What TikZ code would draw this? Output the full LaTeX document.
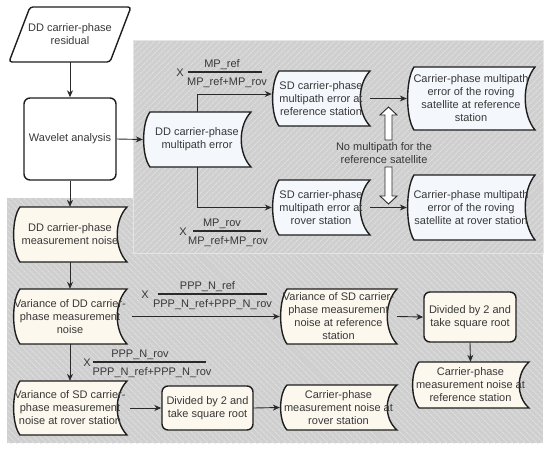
\documentclass[tikz,border=0pt]{standalone}
\usepackage{fontspec}
\setmainfont{Liberation Sans}
\usetikzlibrary{arrows.meta,patterns.meta,calc}
\pgfdeclarelayer{bg}\pgfdeclarelayer{mid}
\pgfsetlayers{bg,mid,main}
\definecolor{txtc}{HTML}{383838}
\definecolor{linec}{HTML}{2A2A2A}
\definecolor{bordc}{HTML}{1E1E1E}
\definecolor{blu}{HTML}{F4F7FC}
\definecolor{crm}{HTML}{FDF8EE}
\definecolor{bggray}{HTML}{CFCFCF}
\definecolor{hatch}{HTML}{DEDEDE}
\tikzset{
  txtnode/.style={inner sep=0pt, align=center, text=txtc, font=\fontsize{11}{13}\selectfont},
  lbl/.style={inner sep=0pt, text=txtc, font=\fontsize{11}{13}\selectfont},
  bord/.style={draw=bordc, line width=1.4pt},
  rbox/.style={txtnode, bord, rounded corners=6pt},
  arr/.style={draw=linec, line width=0.9pt, -{Stealth[length=7pt,width=6pt]}},
  fracl/.style={draw=linec, line width=1.2pt},
  hollow/.style={draw=linec, line width=0.9pt, fill=white, line join=miter}
}
\newcommand{\stnode}[7]{%
  \node[txtnode, minimum width=#4pt, minimum height=#5pt] (#1) at (#2,#3) {#7};
  \begin{pgfonlayer}{mid}
    \draw[bord, fill=#6] ({#2-#4/2+7},{#3-#5/2}) -- ({#2+#4/2},{#3-#5/2})
      .. controls ({#2+#4/2-13},{#3-#5/4}) and ({#2+#4/2-13},{#3+#5/4}) .. ({#2+#4/2},{#3+#5/2})
      -- ({#2-#4/2+7},{#3+#5/2})
      .. controls ({#2-#4/2-1.5},{#3+0.3*#5}) and ({#2-#4/2-1.5},{#3-0.3*#5}) .. cycle;
  \end{pgfonlayer}}
\newcommand{\fraclbl}[9]{%
  \draw[fracl] (#2,#4) -- (#3,#4);
  \node[lbl, anchor=base] (#1n) at ({(#2+#3)/2+#7},{#4-5}) {#5};
  \node[lbl, anchor=base] (#1d) at ({(#2+#3)/2+#8},{#4+13.5}) {#6};
  \node[lbl, anchor=base] (#1x) at (#9,{#4+4.5}) {X};}
\begin{document}
\begin{tikzpicture}[x=1pt,y=-1pt]
\useasboundingbox (0,0) rectangle (550,450);
% background regions
\begin{pgfonlayer}{bg}
  \fill[white] (0,0) rectangle (550,450);
  \fill[bggray] (7,198) rectangle (543,443);
  \fill[pattern={Lines[angle=-45,distance=4pt,line width=1pt]}, pattern color=hatch] (7,198) rectangle (543,443);
  \fill[bggray] (133,40) rectangle (543,253);
  \fill[pattern={Lines[angle=45,distance=4pt,line width=1pt]}, pattern color=hatch] (133,40) rectangle (543,253);
  \draw[black!10, line width=0.6pt] (133,40) rectangle (543,253);
\end{pgfonlayer}
% parallelogram
\node[txtnode, minimum width=100pt, minimum height=55pt] (res) at (70,34.5) {DD carrier-phase\\residual};
\begin{pgfonlayer}{mid}
  \draw[bord, fill=white, rounded corners=3pt] (30,7) -- (131,7) -- (110,62) -- (9,62) -- cycle;
\end{pgfonlayer}
\node[rbox, fill=white, minimum width=92pt, minimum height=82pt] (wav) at (70,139) {Wavelet analysis};
\stnode{dmn}{70}{234.5}{114}{55}{crm}{DD carrier-phase\\measurement noise}
\stnode{dmp}{197}{139.5}{108}{55}{blu}{DD carrier-phase\\multipath error}
\stnode{sdr}{321}{98.5}{98}{55}{blu}{SD carrier-phase\\multipath error at\\reference station}
\stnode{cmr}{471}{98.5}{128}{63}{blu}{Carrier-phase multipath\\error of the roving\\satellite at reference\\station}
\stnode{sdv}{321}{207.5}{98}{55}{blu}{SD carrier-phase\\multipath error at\\rover station}
\stnode{cmv}{471}{207.5}{128}{65}{blu}{Carrier-phase multipath\\error of the roving\\satellite at rover station}
\stnode{vdd}{70}{316.5}{114}{55}{crm}{Variance of DD carrier-\\phase measurement\\noise}
\stnode{vsr}{70}{408}{114}{54}{crm}{Variance of SD carrier-\\phase measurement\\noise at rover station}
\stnode{vsf}{338.5}{316.5}{117}{55}{crm}{Variance of SD carrier-\\phase measurement\\noise at reference\\station}
\node[rbox, fill=crm, minimum width=92pt, minimum height=50pt] (dv1) at (470,317) {Divided by 2 and\\take square root};
\stnode{cnr}{470.5}{385}{117}{46}{crm}{Carrier-phase\\measurement noise at\\reference station}
\node[rbox, fill=crm, minimum width=91pt, minimum height=44pt] (dv2) at (207.5,408) {Divided by 2 and\\take square root};
\stnode{cnv}{338.5}{407.5}{117}{45}{crm}{Carrier-phase\\measurement noise at\\rover station}
% no multipath text and hollow arrows
\node[txtnode] (nomp) at (384,153.5) {No multipath for the\\reference satellite};
\draw[hollow] (388.5,107) -- (397,115) -- (392,115) -- (392,140) -- (385,140) -- (385,115) -- (380,115) -- cycle;
\draw[hollow] (388.5,204) -- (397,196) -- (392,196) -- (392,167) -- (385,167) -- (385,196) -- (380,196) -- cycle;
% connectors
\draw[arr] (res.south) -- (wav.north);
\draw[arr] (wav.east) -- (dmp.west);
\draw[arr] (wav.south) -- (dmn.north);
\draw[arr] (dmp.north) |- ($(sdr.west)+(0,-4.5)$);
\draw[arr] (dmp.south) |- (sdv.west);
\draw[arr] (sdr.east) -- (cmr.west);
\draw[arr] (sdv.east) -- (cmv.west);
\draw[arr] (dmn.south) -- (vdd.north);
\draw[arr] (vdd.south) -- (vsr.north);
\draw[arr, shorten <=5pt] (vdd.east) -- (vsf.west);
\draw[arr] (vsf.east) -- (dv1.west);
\draw[arr] (dv1.south) -- (cnr.north);
\draw[arr, shorten <=3pt] (vsr.east) -- (dv2.west);
\draw[arr] (dv2.east) -- (cnv.west);
% fraction labels
\fraclbl{fa}{188}{262}{72}{MP\_ref}{MP\_ref+MP\_rov}{-3}{2}{180}
\fraclbl{fb}{193}{261}{231}{MP\_rov}{MP\_ref+MP\_rov}{-5}{1}{183}
\fraclbl{fc}{158}{267}{294}{PPP\_N\_ref}{PPP\_N\_ref+PPP\_N\_rov}{-5}{0}{145}
\fraclbl{fd}{93}{206}{362}{PPP\_N\_rov}{PPP\_N\_ref+PPP\_N\_rov}{-9.5}{2.5}{87}
\end{tikzpicture}
\end{document}
